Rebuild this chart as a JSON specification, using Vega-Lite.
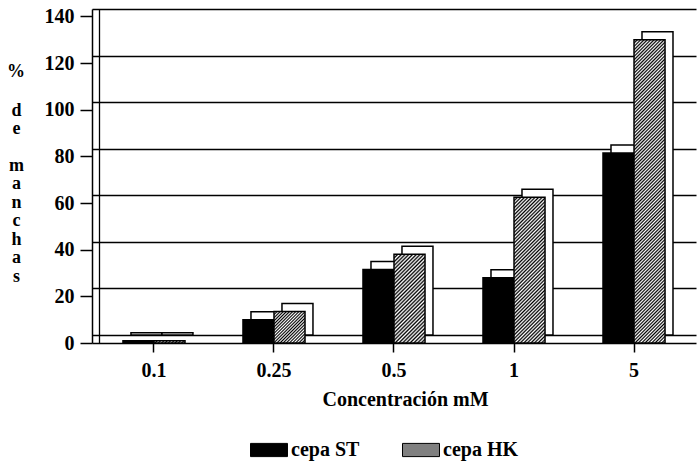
{
  "$schema": "https://vega.github.io/schema/vega-lite/v6.json",
  "width": 604,
  "height": 334,
  "autosize": {"type": "none"},
  "padding": {"left": 92, "top": 9, "right": 3, "bottom": 125},
  "background": "#ffffff",
  "title": {
    "text": "%",
    "frame": "group",
    "anchor": "start",
    "align": "center",
    "baseline": "alphabetic",
    "offset": 0,
    "dx": -76,
    "dy": 89,
    "font": "Liberation Serif",
    "fontSize": 18,
    "fontWeight": "bold",
    "color": "#000"
  },
  "config": {
    "view": {"stroke": null},
    "font": "Liberation Serif",
    "axis": {"labelFont": "Liberation Serif", "titleFont": "Liberation Serif"},
    "legend": {"labelFont": "Liberation Serif"}
  },
  "data": {
    "values": [
      {"conc": "0.1", "cepa": "cepa ST", "value": 1},
      {"conc": "0.1", "cepa": "cepa HK", "value": 1},
      {"conc": "0.25", "cepa": "cepa ST", "value": 10},
      {"conc": "0.25", "cepa": "cepa HK", "value": 13.5},
      {"conc": "0.5", "cepa": "cepa ST", "value": 31.5},
      {"conc": "0.5", "cepa": "cepa HK", "value": 38},
      {"conc": "1", "cepa": "cepa ST", "value": 28},
      {"conc": "1", "cepa": "cepa HK", "value": 62.5},
      {"conc": "5", "cepa": "cepa ST", "value": 81.5},
      {"conc": "5", "cepa": "cepa HK", "value": 130}
    ]
  },
  "resolve": {"scale": {"y": "independent"}},
  "layer": [
    {
      "mark": {"type": "rule", "opacity": 0},
      "encoding": {
        "y": {
          "field": "value",
          "type": "quantitative",
          "scale": {"domain": [-3.43, 140], "nice": false, "zero": false},
          "axis": {
            "orient": "left",
            "offset": -7,
            "values": [0, 20, 40, 60, 80, 100, 120, 140],
            "grid": true,
            "gridColor": "#000",
            "gridWidth": 1.3,
            "gridOpacity": 1,
            "ticks": false,
            "labels": false,
            "domain": true,
            "domainColor": "#000",
            "domainWidth": 1.3,
            "title": ["d", "e"],
            "titleAngle": 0,
            "titleAlign": "center",
            "titleBaseline": "alphabetic",
            "titleX": -83,
            "titleY": 106,
            "titleLineHeight": 18.5,
            "titleFontSize": 18,
            "titleFontWeight": "bold",
            "titleColor": "#000"
          }
        }
      }
    },
    {
      "resolve": {"scale": {"xOffset": "independent"}},
      "encoding": {
        "x": {
          "field": "conc",
          "type": "nominal",
          "sort": ["0.1", "0.25", "0.5", "1", "5"],
          "scale": {"type": "band", "paddingInner": 0.483, "paddingOuter": 0.258},
          "axis": {
            "title": "Concentración mM",
            "labelAngle": 0,
            "labelFontSize": 20,
            "labelFontWeight": "bold",
            "labelColor": "#000",
            "labelPadding": 8,
            "tickSize": 9,
            "tickWidth": 1.5,
            "tickColor": "#000",
            "domainColor": "#000",
            "domainWidth": 1.5,
            "grid": false,
            "titleFontSize": 20,
            "titleFontWeight": "bold",
            "titleColor": "#000",
            "titleX": 313,
            "titleY": 62,
            "titleBaseline": "alphabetic"
          }
        },
        "y": {
          "field": "value",
          "type": "quantitative",
          "scale": {"domain": [0, 143.2], "nice": false},
          "axis": {
            "orient": "left",
            "values": [0, 20, 40, 60, 80, 100, 120, 140],
            "grid": false,
            "tickSize": 12,
            "tickWidth": 1.5,
            "tickColor": "#000",
            "domainColor": "#000",
            "domainWidth": 1.5,
            "labelFontSize": 20,
            "labelFontWeight": "bold",
            "labelColor": "#000",
            "labelPadding": 6,
            "title": ["m", "a", "n", "c", "h", "a", "s"],
            "titleAngle": 0,
            "titleAlign": "center",
            "titleBaseline": "alphabetic",
            "titleX": -76,
            "titleY": 161,
            "titleLineHeight": 18.5,
            "titleFontSize": 18,
            "titleFontWeight": "bold",
            "titleColor": "#000"
          }
        }
      },
      "layer": [
        {
          "mark": {
            "type": "bar",
            "fill": "#ffffff",
            "stroke": "#000",
            "strokeWidth": 1.5,
            "yOffset": -8,
            "y2Offset": -8
          },
          "encoding": {
            "xOffset": {
              "field": "cepa",
              "type": "nominal",
              "sort": ["cepa ST", "cepa HK"],
              "scale": {"range": [8, 70], "paddingInner": 0, "paddingOuter": 0}
            }
          }
        },
        {
          "mark": {"type": "bar", "stroke": "#000", "strokeWidth": 1.5},
          "encoding": {
            "xOffset": {
              "field": "cepa",
              "type": "nominal",
              "sort": ["cepa ST", "cepa HK"],
              "scale": {"paddingInner": 0, "paddingOuter": 0}
            },
            "fill": {
              "field": "cepa",
              "type": "nominal",
              "scale": {"domain": ["cepa ST", "cepa HK"], "range": ["#000000", "#808080"]},
              "condition": [
                {
                  "test": "datum.cepa === 'cepa HK' && datum.conc === '5'",
                  "value": {"gradient": "linear", "x1": 0, "y1": 0, "x2": 0.11161, "y2": 1.0909, "stops": [
                    {"offset":0,"color":"#000"},{"offset":0.005,"color":"#fff"},{"offset":0.01,"color":"#000"},{"offset":0.015,"color":"#fff"},{"offset":0.02,"color":"#000"},{"offset":0.025,"color":"#fff"},{"offset":0.03,"color":"#000"},{"offset":0.035,"color":"#fff"},{"offset":0.04,"color":"#000"},{"offset":0.045,"color":"#fff"},
                    {"offset":0.05,"color":"#000"},{"offset":0.055,"color":"#fff"},{"offset":0.06,"color":"#000"},{"offset":0.065,"color":"#fff"},{"offset":0.07,"color":"#000"},{"offset":0.075,"color":"#fff"},{"offset":0.08,"color":"#000"},{"offset":0.085,"color":"#fff"},{"offset":0.09,"color":"#000"},{"offset":0.095,"color":"#fff"},
                    {"offset":0.1,"color":"#000"},{"offset":0.105,"color":"#fff"},{"offset":0.11,"color":"#000"},{"offset":0.115,"color":"#fff"},{"offset":0.12,"color":"#000"},{"offset":0.125,"color":"#fff"},{"offset":0.13,"color":"#000"},{"offset":0.135,"color":"#fff"},{"offset":0.14,"color":"#000"},{"offset":0.145,"color":"#fff"},
                    {"offset":0.15,"color":"#000"},{"offset":0.155,"color":"#fff"},{"offset":0.16,"color":"#000"},{"offset":0.165,"color":"#fff"},{"offset":0.17,"color":"#000"},{"offset":0.175,"color":"#fff"},{"offset":0.18,"color":"#000"},{"offset":0.185,"color":"#fff"},{"offset":0.19,"color":"#000"},{"offset":0.195,"color":"#fff"},
                    {"offset":0.2,"color":"#000"},{"offset":0.205,"color":"#fff"},{"offset":0.21,"color":"#000"},{"offset":0.215,"color":"#fff"},{"offset":0.22,"color":"#000"},{"offset":0.225,"color":"#fff"},{"offset":0.23,"color":"#000"},{"offset":0.235,"color":"#fff"},{"offset":0.24,"color":"#000"},{"offset":0.245,"color":"#fff"},
                    {"offset":0.25,"color":"#000"},{"offset":0.255,"color":"#fff"},{"offset":0.26,"color":"#000"},{"offset":0.265,"color":"#fff"},{"offset":0.27,"color":"#000"},{"offset":0.275,"color":"#fff"},{"offset":0.28,"color":"#000"},{"offset":0.285,"color":"#fff"},{"offset":0.29,"color":"#000"},{"offset":0.295,"color":"#fff"},
                    {"offset":0.3,"color":"#000"},{"offset":0.305,"color":"#fff"},{"offset":0.31,"color":"#000"},{"offset":0.315,"color":"#fff"},{"offset":0.32,"color":"#000"},{"offset":0.325,"color":"#fff"},{"offset":0.33,"color":"#000"},{"offset":0.335,"color":"#fff"},{"offset":0.34,"color":"#000"},{"offset":0.345,"color":"#fff"},
                    {"offset":0.35,"color":"#000"},{"offset":0.355,"color":"#fff"},{"offset":0.36,"color":"#000"},{"offset":0.365,"color":"#fff"},{"offset":0.37,"color":"#000"},{"offset":0.375,"color":"#fff"},{"offset":0.38,"color":"#000"},{"offset":0.385,"color":"#fff"},{"offset":0.39,"color":"#000"},{"offset":0.395,"color":"#fff"},
                    {"offset":0.4,"color":"#000"},{"offset":0.405,"color":"#fff"},{"offset":0.41,"color":"#000"},{"offset":0.415,"color":"#fff"},{"offset":0.42,"color":"#000"},{"offset":0.425,"color":"#fff"},{"offset":0.43,"color":"#000"},{"offset":0.435,"color":"#fff"},{"offset":0.44,"color":"#000"},{"offset":0.445,"color":"#fff"},
                    {"offset":0.45,"color":"#000"},{"offset":0.455,"color":"#fff"},{"offset":0.46,"color":"#000"},{"offset":0.465,"color":"#fff"},{"offset":0.47,"color":"#000"},{"offset":0.475,"color":"#fff"},{"offset":0.48,"color":"#000"},{"offset":0.485,"color":"#fff"},{"offset":0.49,"color":"#000"},{"offset":0.495,"color":"#fff"},
                    {"offset":0.5,"color":"#000"},{"offset":0.505,"color":"#fff"},{"offset":0.51,"color":"#000"},{"offset":0.515,"color":"#fff"},{"offset":0.52,"color":"#000"},{"offset":0.525,"color":"#fff"},{"offset":0.53,"color":"#000"},{"offset":0.535,"color":"#fff"},{"offset":0.54,"color":"#000"},{"offset":0.545,"color":"#fff"},
                    {"offset":0.55,"color":"#000"},{"offset":0.555,"color":"#fff"},{"offset":0.56,"color":"#000"},{"offset":0.565,"color":"#fff"},{"offset":0.57,"color":"#000"},{"offset":0.575,"color":"#fff"},{"offset":0.58,"color":"#000"},{"offset":0.585,"color":"#fff"},{"offset":0.59,"color":"#000"},{"offset":0.595,"color":"#fff"},
                    {"offset":0.6,"color":"#000"},{"offset":0.605,"color":"#fff"},{"offset":0.61,"color":"#000"},{"offset":0.615,"color":"#fff"},{"offset":0.62,"color":"#000"},{"offset":0.625,"color":"#fff"},{"offset":0.63,"color":"#000"},{"offset":0.635,"color":"#fff"},{"offset":0.64,"color":"#000"},{"offset":0.645,"color":"#fff"},
                    {"offset":0.65,"color":"#000"},{"offset":0.655,"color":"#fff"},{"offset":0.66,"color":"#000"},{"offset":0.665,"color":"#fff"},{"offset":0.67,"color":"#000"},{"offset":0.675,"color":"#fff"},{"offset":0.68,"color":"#000"},{"offset":0.685,"color":"#fff"},{"offset":0.69,"color":"#000"},{"offset":0.695,"color":"#fff"},
                    {"offset":0.7,"color":"#000"},{"offset":0.705,"color":"#fff"},{"offset":0.71,"color":"#000"},{"offset":0.715,"color":"#fff"},{"offset":0.72,"color":"#000"},{"offset":0.725,"color":"#fff"},{"offset":0.73,"color":"#000"},{"offset":0.735,"color":"#fff"},{"offset":0.74,"color":"#000"},{"offset":0.745,"color":"#fff"},
                    {"offset":0.75,"color":"#000"},{"offset":0.755,"color":"#fff"},{"offset":0.76,"color":"#000"},{"offset":0.765,"color":"#fff"},{"offset":0.77,"color":"#000"},{"offset":0.775,"color":"#fff"},{"offset":0.78,"color":"#000"},{"offset":0.785,"color":"#fff"},{"offset":0.79,"color":"#000"},{"offset":0.795,"color":"#fff"},
                    {"offset":0.8,"color":"#000"},{"offset":0.805,"color":"#fff"},{"offset":0.81,"color":"#000"},{"offset":0.815,"color":"#fff"},{"offset":0.82,"color":"#000"},{"offset":0.825,"color":"#fff"},{"offset":0.83,"color":"#000"},{"offset":0.835,"color":"#fff"},{"offset":0.84,"color":"#000"},{"offset":0.845,"color":"#fff"},
                    {"offset":0.85,"color":"#000"},{"offset":0.855,"color":"#fff"},{"offset":0.86,"color":"#000"},{"offset":0.865,"color":"#fff"},{"offset":0.87,"color":"#000"},{"offset":0.875,"color":"#fff"},{"offset":0.88,"color":"#000"},{"offset":0.885,"color":"#fff"},{"offset":0.89,"color":"#000"},{"offset":0.895,"color":"#fff"},
                    {"offset":0.9,"color":"#000"},{"offset":0.905,"color":"#fff"},{"offset":0.91,"color":"#000"},{"offset":0.915,"color":"#fff"},{"offset":0.92,"color":"#000"},{"offset":0.925,"color":"#fff"},{"offset":0.93,"color":"#000"},{"offset":0.935,"color":"#fff"},{"offset":0.94,"color":"#000"},{"offset":0.945,"color":"#fff"},
                    {"offset":0.95,"color":"#000"},{"offset":0.955,"color":"#fff"},{"offset":0.96,"color":"#000"},{"offset":0.965,"color":"#fff"},{"offset":0.97,"color":"#000"},{"offset":0.975,"color":"#fff"},{"offset":0.98,"color":"#000"},{"offset":0.985,"color":"#fff"},{"offset":0.99,"color":"#000"},{"offset":0.995,"color":"#fff"},
                    {"offset":1,"color":"#000"}
                  ]}
                },
                {
                  "test": "datum.cepa === 'cepa HK' && datum.conc === '1'",
                  "value": {"gradient": "linear", "x1": 0, "y1": 0, "x2": 0.2469, "y2": 1.1603, "stops": [
                    {"offset":0,"color":"#000"},{"offset":0.01,"color":"#fff"},{"offset":0.02,"color":"#000"},{"offset":0.03,"color":"#fff"},{"offset":0.04,"color":"#000"},{"offset":0.05,"color":"#fff"},{"offset":0.06,"color":"#000"},{"offset":0.07,"color":"#fff"},{"offset":0.08,"color":"#000"},{"offset":0.09,"color":"#fff"},
                    {"offset":0.1,"color":"#000"},{"offset":0.11,"color":"#fff"},{"offset":0.12,"color":"#000"},{"offset":0.13,"color":"#fff"},{"offset":0.14,"color":"#000"},{"offset":0.15,"color":"#fff"},{"offset":0.16,"color":"#000"},{"offset":0.17,"color":"#fff"},{"offset":0.18,"color":"#000"},{"offset":0.19,"color":"#fff"},
                    {"offset":0.2,"color":"#000"},{"offset":0.21,"color":"#fff"},{"offset":0.22,"color":"#000"},{"offset":0.23,"color":"#fff"},{"offset":0.24,"color":"#000"},{"offset":0.25,"color":"#fff"},{"offset":0.26,"color":"#000"},{"offset":0.27,"color":"#fff"},{"offset":0.28,"color":"#000"},{"offset":0.29,"color":"#fff"},
                    {"offset":0.3,"color":"#000"},{"offset":0.31,"color":"#fff"},{"offset":0.32,"color":"#000"},{"offset":0.33,"color":"#fff"},{"offset":0.34,"color":"#000"},{"offset":0.35,"color":"#fff"},{"offset":0.36,"color":"#000"},{"offset":0.37,"color":"#fff"},{"offset":0.38,"color":"#000"},{"offset":0.39,"color":"#fff"},
                    {"offset":0.4,"color":"#000"},{"offset":0.41,"color":"#fff"},{"offset":0.42,"color":"#000"},{"offset":0.43,"color":"#fff"},{"offset":0.44,"color":"#000"},{"offset":0.45,"color":"#fff"},{"offset":0.46,"color":"#000"},{"offset":0.47,"color":"#fff"},{"offset":0.48,"color":"#000"},{"offset":0.49,"color":"#fff"},
                    {"offset":0.5,"color":"#000"},{"offset":0.51,"color":"#fff"},{"offset":0.52,"color":"#000"},{"offset":0.53,"color":"#fff"},{"offset":0.54,"color":"#000"},{"offset":0.55,"color":"#fff"},{"offset":0.56,"color":"#000"},{"offset":0.57,"color":"#fff"},{"offset":0.58,"color":"#000"},{"offset":0.59,"color":"#fff"},
                    {"offset":0.6,"color":"#000"},{"offset":0.61,"color":"#fff"},{"offset":0.62,"color":"#000"},{"offset":0.63,"color":"#fff"},{"offset":0.64,"color":"#000"},{"offset":0.65,"color":"#fff"},{"offset":0.66,"color":"#000"},{"offset":0.67,"color":"#fff"},{"offset":0.68,"color":"#000"},{"offset":0.69,"color":"#fff"},
                    {"offset":0.7,"color":"#000"},{"offset":0.71,"color":"#fff"},{"offset":0.72,"color":"#000"},{"offset":0.73,"color":"#fff"},{"offset":0.74,"color":"#000"},{"offset":0.75,"color":"#fff"},{"offset":0.76,"color":"#000"},{"offset":0.77,"color":"#fff"},{"offset":0.78,"color":"#000"},{"offset":0.79,"color":"#fff"},
                    {"offset":0.8,"color":"#000"},{"offset":0.81,"color":"#fff"},{"offset":0.82,"color":"#000"},{"offset":0.83,"color":"#fff"},{"offset":0.84,"color":"#000"},{"offset":0.85,"color":"#fff"},{"offset":0.86,"color":"#000"},{"offset":0.87,"color":"#fff"},{"offset":0.88,"color":"#000"},{"offset":0.89,"color":"#fff"},
                    {"offset":0.9,"color":"#000"},{"offset":0.91,"color":"#fff"},{"offset":0.92,"color":"#000"},{"offset":0.93,"color":"#fff"},{"offset":0.94,"color":"#000"},{"offset":0.95,"color":"#fff"},{"offset":0.96,"color":"#000"},{"offset":0.97,"color":"#fff"},{"offset":0.98,"color":"#000"},{"offset":0.99,"color":"#fff"},
                    {"offset":1,"color":"#000"}
                  ]}
                },
                {
                  "test": "datum.cepa === 'cepa HK' && datum.conc === '0.5'",
                  "value": {"gradient": "linear", "x1": 0, "y1": 0, "x2": 0.4209, "y2": 1.2026, "stops": [
                    {"offset":0,"color":"#000"},{"offset":0.015625,"color":"#fff"},{"offset":0.03125,"color":"#000"},{"offset":0.046875,"color":"#fff"},{"offset":0.0625,"color":"#000"},{"offset":0.078125,"color":"#fff"},{"offset":0.09375,"color":"#000"},{"offset":0.109375,"color":"#fff"},
                    {"offset":0.125,"color":"#000"},{"offset":0.140625,"color":"#fff"},{"offset":0.15625,"color":"#000"},{"offset":0.171875,"color":"#fff"},{"offset":0.1875,"color":"#000"},{"offset":0.203125,"color":"#fff"},{"offset":0.21875,"color":"#000"},{"offset":0.234375,"color":"#fff"},
                    {"offset":0.25,"color":"#000"},{"offset":0.265625,"color":"#fff"},{"offset":0.28125,"color":"#000"},{"offset":0.296875,"color":"#fff"},{"offset":0.3125,"color":"#000"},{"offset":0.328125,"color":"#fff"},{"offset":0.34375,"color":"#000"},{"offset":0.359375,"color":"#fff"},
                    {"offset":0.375,"color":"#000"},{"offset":0.390625,"color":"#fff"},{"offset":0.40625,"color":"#000"},{"offset":0.421875,"color":"#fff"},{"offset":0.4375,"color":"#000"},{"offset":0.453125,"color":"#fff"},{"offset":0.46875,"color":"#000"},{"offset":0.484375,"color":"#fff"},
                    {"offset":0.5,"color":"#000"},{"offset":0.515625,"color":"#fff"},{"offset":0.53125,"color":"#000"},{"offset":0.546875,"color":"#fff"},{"offset":0.5625,"color":"#000"},{"offset":0.578125,"color":"#fff"},{"offset":0.59375,"color":"#000"},{"offset":0.609375,"color":"#fff"},
                    {"offset":0.625,"color":"#000"},{"offset":0.640625,"color":"#fff"},{"offset":0.65625,"color":"#000"},{"offset":0.671875,"color":"#fff"},{"offset":0.6875,"color":"#000"},{"offset":0.703125,"color":"#fff"},{"offset":0.71875,"color":"#000"},{"offset":0.734375,"color":"#fff"},
                    {"offset":0.75,"color":"#000"},{"offset":0.765625,"color":"#fff"},{"offset":0.78125,"color":"#000"},{"offset":0.796875,"color":"#fff"},{"offset":0.8125,"color":"#000"},{"offset":0.828125,"color":"#fff"},{"offset":0.84375,"color":"#000"},{"offset":0.859375,"color":"#fff"},
                    {"offset":0.875,"color":"#000"},{"offset":0.890625,"color":"#fff"},{"offset":0.90625,"color":"#000"},{"offset":0.921875,"color":"#fff"},{"offset":0.9375,"color":"#000"},{"offset":0.953125,"color":"#fff"},{"offset":0.96875,"color":"#000"},{"offset":0.984375,"color":"#fff"},
                    {"offset":1,"color":"#000"}
                  ]}
                },
                {
                  "test": "datum.cepa === 'cepa HK' && datum.conc === '0.25'",
                  "value": {"gradient": "linear", "x1": 0, "y1": 0, "x2": 0.9924, "y2": 1.0075, "stops": [
                    {"offset":0,"color":"#000"},{"offset":0.025,"color":"#fff"},{"offset":0.05,"color":"#000"},{"offset":0.075,"color":"#fff"},{"offset":0.1,"color":"#000"},{"offset":0.125,"color":"#fff"},{"offset":0.15,"color":"#000"},{"offset":0.175,"color":"#fff"},{"offset":0.2,"color":"#000"},{"offset":0.225,"color":"#fff"},
                    {"offset":0.25,"color":"#000"},{"offset":0.275,"color":"#fff"},{"offset":0.3,"color":"#000"},{"offset":0.325,"color":"#fff"},{"offset":0.35,"color":"#000"},{"offset":0.375,"color":"#fff"},{"offset":0.4,"color":"#000"},{"offset":0.425,"color":"#fff"},{"offset":0.45,"color":"#000"},{"offset":0.475,"color":"#fff"},
                    {"offset":0.5,"color":"#000"},{"offset":0.525,"color":"#fff"},{"offset":0.55,"color":"#000"},{"offset":0.575,"color":"#fff"},{"offset":0.6,"color":"#000"},{"offset":0.625,"color":"#fff"},{"offset":0.65,"color":"#000"},{"offset":0.675,"color":"#fff"},{"offset":0.7,"color":"#000"},{"offset":0.725,"color":"#fff"},
                    {"offset":0.75,"color":"#000"},{"offset":0.775,"color":"#fff"},{"offset":0.8,"color":"#000"},{"offset":0.825,"color":"#fff"},{"offset":0.85,"color":"#000"},{"offset":0.875,"color":"#fff"},{"offset":0.9,"color":"#000"},{"offset":0.925,"color":"#fff"},{"offset":0.95,"color":"#000"},{"offset":0.975,"color":"#fff"},
                    {"offset":1,"color":"#000"}
                  ]}
                },
                {
                  "test": "datum.cepa === 'cepa HK' && datum.conc === '0.1'",
                  "value": {"gradient": "linear", "x1": 0, "y1": 0, "x2": 1.0691, "y2": 0.0803, "stops": [
                    {"offset":0,"color":"#000"},{"offset":0.05,"color":"#fff"},{"offset":0.1,"color":"#000"},{"offset":0.15,"color":"#fff"},{"offset":0.2,"color":"#000"},{"offset":0.25,"color":"#fff"},{"offset":0.3,"color":"#000"},{"offset":0.35,"color":"#fff"},{"offset":0.4,"color":"#000"},{"offset":0.45,"color":"#fff"},
                    {"offset":0.5,"color":"#000"},{"offset":0.55,"color":"#fff"},{"offset":0.6,"color":"#000"},{"offset":0.65,"color":"#fff"},{"offset":0.7,"color":"#000"},{"offset":0.75,"color":"#fff"},{"offset":0.8,"color":"#000"},{"offset":0.85,"color":"#fff"},{"offset":0.9,"color":"#000"},{"offset":0.95,"color":"#fff"},
                    {"offset":1,"color":"#000"}
                  ]}
                }
              ],
              "legend": {
                "title": null,
                "orient": "none",
                "legendX": 163,
                "legendY": 427,
                "direction": "horizontal",
                "symbolType": "M-1.4,-0.5H1.4V0.5H-1.4Z",
                "symbolSize": 698,
                "symbolStrokeColor": "#000",
                "symbolStrokeWidth": 1,
                "symbolOpacity": 1,
                "labelFontSize": 20,
                "labelFontWeight": "bold",
                "labelColor": "#000",
                "labelOffset": 8,
                "columnPadding": 40
              }
            }
          }
        }
      ]
    }
  ]
}
